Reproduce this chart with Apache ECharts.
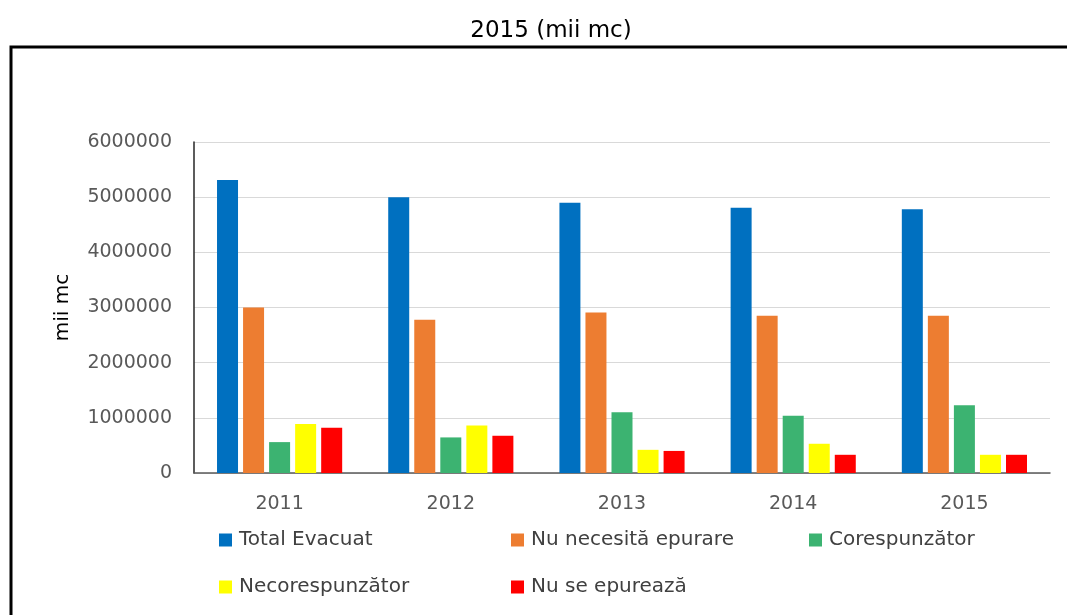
<!DOCTYPE html>
<html>
<head>
<meta charset="utf-8">
<script src="https://cdn.jsdelivr.net/npm/echarts@6/dist/echarts.min.js"></script>
<style>
  html, body { margin: 0; padding: 0; background: #fff; }
  #chart { width: 1067px; height: 615px; }
</style>
</head>
<body>
<div id="chart"></div>
<script>
// Wastewater discharged per year, thousand m3
const years = ['2011', '2012', '2013', '2014', '2015'];
const totalEvacuat    = [5310000, 5000000, 4900000, 4810000, 4780000];
const nuNecesita      = [3000000, 2780000, 2910000, 2850000, 2850000];
const corespunzator   = [560000, 645000, 1100000, 1040000, 1230000];
const necorespunzator = [887000, 860000, 420000, 530000, 330000];
const nuSeEpureaza    = [820000, 675000, 400000, 330000, 330000];

const seriesNames = ['Total Evacuat', 'Nu necesită epurare', 'Corespunzător', 'Necorespunzător', 'Nu se epurează'];
const seriesData  = [totalEvacuat, nuNecesita, corespunzator, necorespunzator, nuSeEpureaza];
const colors = ['#0070C0', '#ED7D31', '#3CB371', '#FFFF00', '#FF0000'];
const yTicks = { min: 0, max: 6000000, interval: 1000000 };

const FONT = 'DejaVu Sans';
const chart = echarts.init(document.getElementById('chart'), null, { renderer: 'canvas' });

function legendAt(name, left, top) {
  return {
    data: [name],
    left: left,
    top: top,
    padding: 0,
    icon: 'rect',
    itemWidth: 13,
    itemHeight: 13,
    itemStyle: { borderWidth: 0 },
    textStyle: { fontFamily: FONT, fontSize: 20, color: '#404040', padding: [0, 0, 0, 2] },
    selectedMode: false
  };
}

chart.setOption({
  animation: false,
  color: colors,
  title: {
    text: '2015 (mii mc)',
    left: 546,
    top: 15,
    textAlign: 'center',
    textStyle: { fontFamily: FONT, fontSize: 23, fontWeight: 'normal', color: '#000' }
  },
  graphic: [{
    type: 'polyline',
    shape: { points: [[11, 615], [11, 47], [1067, 47]] },
    style: { stroke: '#000', lineWidth: 3, fill: null }
  }],
  legend: [
    legendAt(seriesNames[0], 219, 530),
    legendAt(seriesNames[1], 511, 530),
    legendAt(seriesNames[2], 809, 530),
    legendAt(seriesNames[3], 219, 577),
    legendAt(seriesNames[4], 511, 577)
  ],
  grid: { left: 194, right: 17, top: 142, bottom: 142, containLabel: false },
  xAxis: {
    type: 'category',
    data: years,
    axisTick: { show: false },
    axisLine: { show: true, lineStyle: { color: '#595959', width: 1.5 } },
    axisLabel: { fontFamily: FONT, fontSize: 19, color: '#595959', margin: 22 }
  },
  yAxis: {
    type: 'value',
    min: yTicks.min,
    max: yTicks.max,
    interval: yTicks.interval,
    name: 'mii mc',
    nameLocation: 'middle',
    nameRotate: 90,
    nameGap: 121,
    nameTextStyle: { fontFamily: FONT, fontSize: 20, color: '#000' },
    axisLine: { show: true, lineStyle: { color: '#262626', width: 1.5 } },
    axisTick: { show: false },
    axisLabel: {
      fontFamily: FONT, fontSize: 19, color: '#595959', margin: 22,
      formatter: v => String(v)
    },
    splitLine: { show: true, lineStyle: { color: '#D9D9D9', width: 1 } }
  },
  series: seriesNames.map((name, i) => ({
    name: name,
    type: 'bar',
    data: seriesData[i],
    barWidth: 21,
    barGap: '24%',
    itemStyle: { color: colors[i] }
  }))
});
</script>
</body>
</html>
